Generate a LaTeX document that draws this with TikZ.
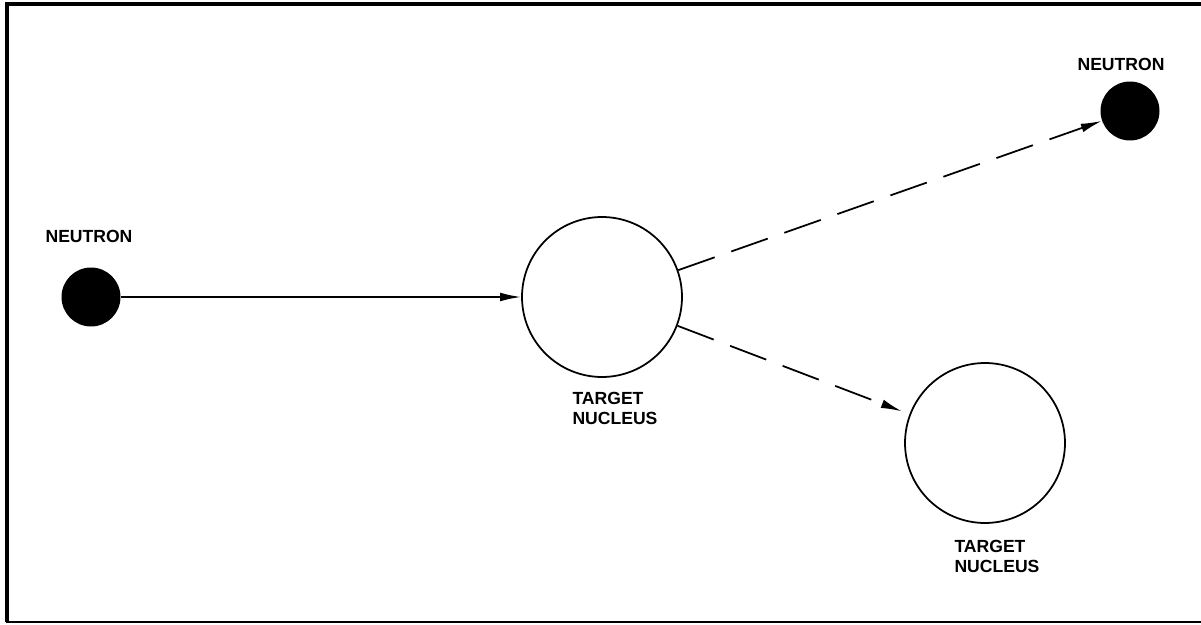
\documentclass[tikz,border=0pt]{standalone}
\usepackage{fontspec}
\setmainfont{Liberation Sans}
\usetikzlibrary{arrows.meta}

\tikzset{
  particle/.style={circle, fill=black, minimum size=1.18cm, inner sep=0pt},
  nucleus/.style={circle, draw, line width=1pt, minimum size=3.2cm, inner sep=0pt},
  lbl/.style={align=left, font=\bfseries\fontsize{10}{11.4}\selectfont, text=black},
  track/.style={line width=1pt, -{Latex[length=12pt,width=5pt]}},
  scatter/.style={track, dash pattern=on 22pt off 10pt}
}

\begin{document}
\begin{tikzpicture}[x=0.02cm, y=-0.02cm]
\useasboundingbox (0,0) rectangle (1201,625);
% frame
\draw[line width=2.5pt] (1201,4) -- (7,4) -- (7,622);
\draw[line width=1.5pt] (6,622) -- (1201,622);

% particles
\node[particle] (nin) at (91,297) {};
\node[particle] (nout) at (1130,111) {};
\node[nucleus] (tgt) at (602,297) {};
\node[nucleus] (recoil) at (985,443) {};

% labels
\node[lbl] (ninlbl) at (89,236) {NEUTRON};
\node[lbl] (noutlbl) at (1121,64) {NEUTRON};
\node[lbl] (tgtlbl) at (615,408) {TARGET\\NUCLEUS};
\node[lbl] (recoillbl) at (997,556) {TARGET\\NUCLEUS};

% paths
\draw[track] (nin) -- (tgt);
\draw[scatter] (tgt) -- (nout);
\draw[scatter, shorten >=0.16cm] (tgt) -- (recoil);
\end{tikzpicture}
\end{document}
